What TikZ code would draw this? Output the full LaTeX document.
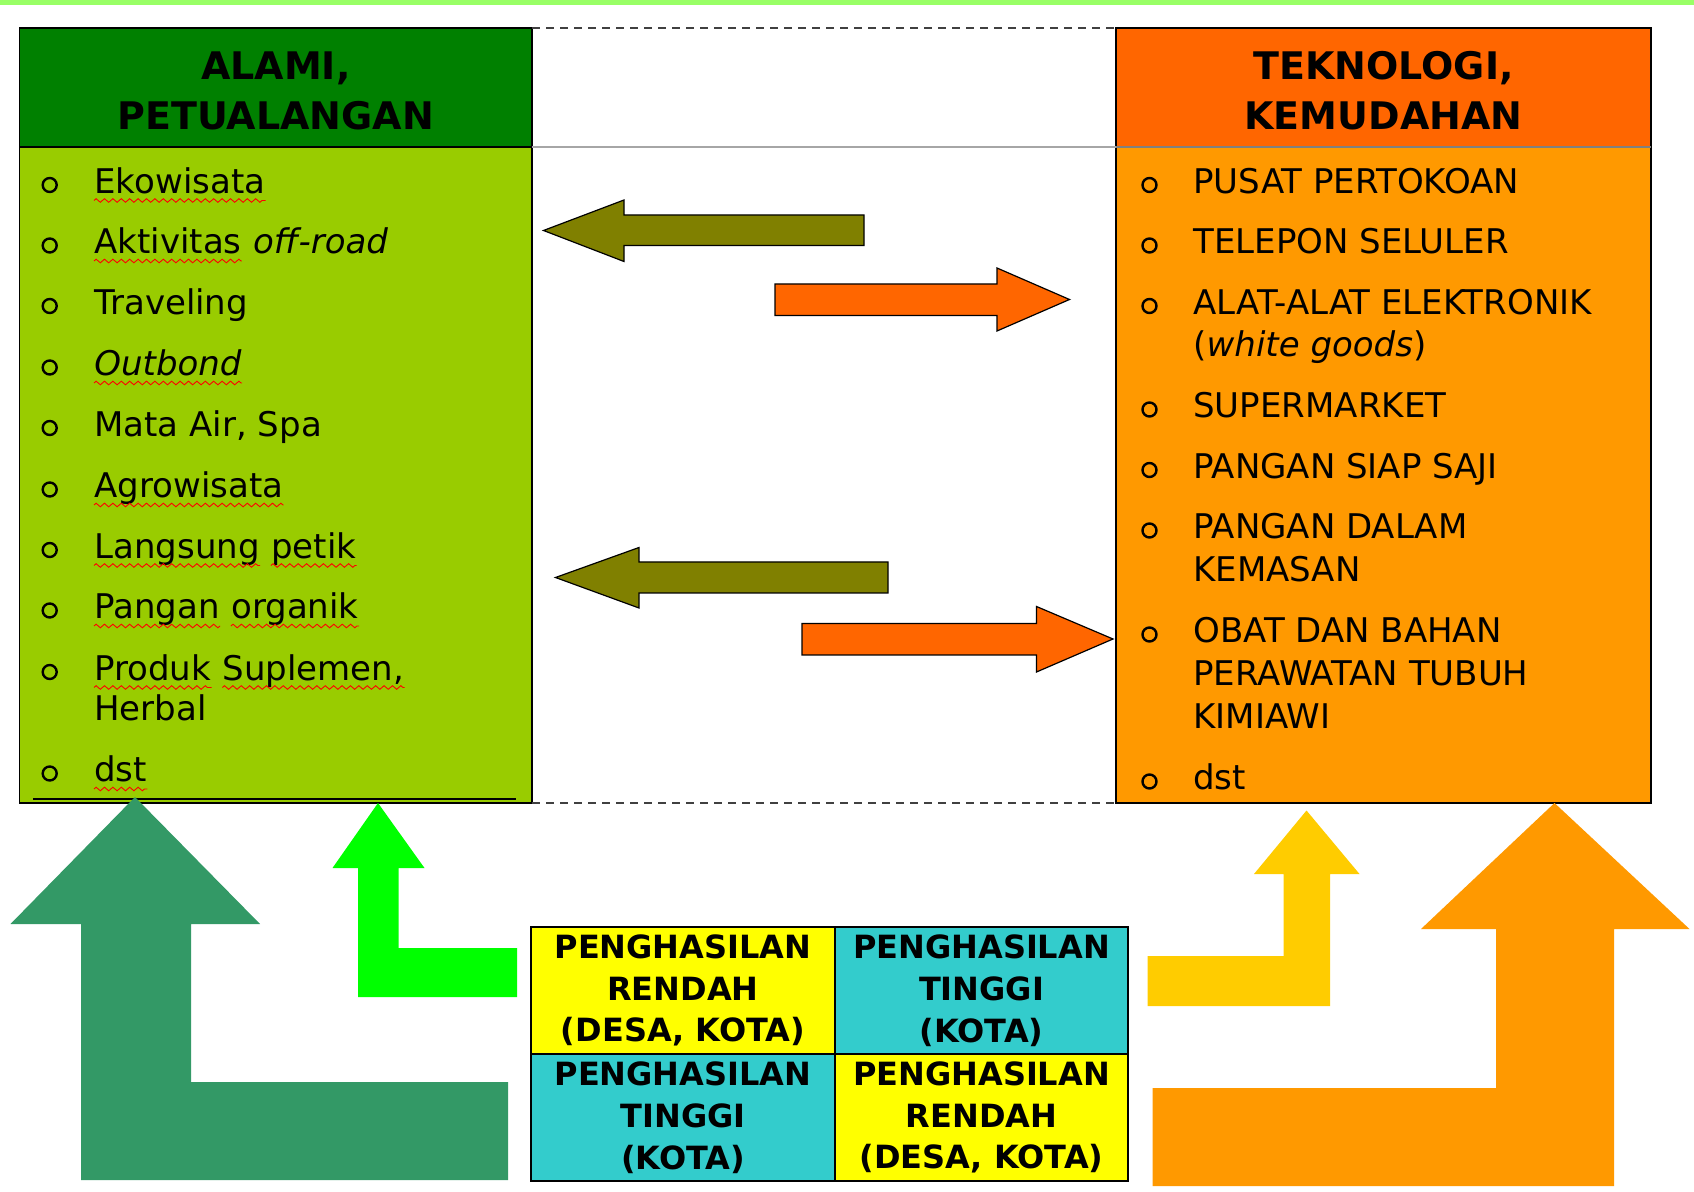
\documentclass[tikz,border=0pt]{standalone}
\usepackage{fontspec}
\setmainfont{DejaVu Sans}
\usetikzlibrary{decorations.pathmorphing}

\definecolor{garisatas}{HTML}{99FF66}
\definecolor{hijautua}{HTML}{008000}
\definecolor{hijaumuda}{HTML}{99CC00}
\definecolor{jingga}{HTML}{FF6600}
\definecolor{oranye}{HTML}{FF9900}
\definecolor{zaitun}{HTML}{808000}
\definecolor{hijaulaut}{HTML}{339966}
\definecolor{hijauterang}{HTML}{00FF00}
\definecolor{emas}{HTML}{FFCC00}
\definecolor{kuning}{HTML}{FFFF00}
\definecolor{toska}{HTML}{33CCCC}

\begin{document}
\begin{tikzpicture}[x=0.5pt, y=-0.5pt,
    judul/.style={inner sep=0pt, align=center, font=\bfseries\fontsize{19}{25}\selectfont},
    butir/.style={inner sep=0pt, anchor=base west, font=\fontsize{17}{21}\selectfont},
    sel/.style={draw, line width=0.8pt, inner sep=0pt, minimum height=63.5pt, align=center,
        font=\bfseries\fontsize{16}{20.9}\selectfont},
    bulat/.style={line width=1.2pt},
    panah/.style={draw=black, line width=0.6pt},
    gelombang/.style={red, line width=0.45pt, decorate,
        decoration={zigzag, segment length=4.2pt, amplitude=0.9pt}}]

    \useasboundingbox (0,0) rectangle (1694,1192);

    % Garis hijau di atas
    \fill[garisatas] (0,0) rectangle (1694,5);

    % Kotak kiri dan kanan
    \fill[hijautua] (19.5,28) rectangle (532,147);
    \fill[hijaumuda] (19.5,147) rectangle (532,803);
    \fill[jingga] (1116,28) rectangle (1651,147);
    \fill[oranye] (1116,147) rectangle (1651,803);
    \draw[line width=0.8pt] (19.5,28) rectangle (532,803);
    \draw[line width=0.8pt] (19.5,147) -- (532,147);
    \draw[line width=0.8pt] (1116,28) rectangle (1651,803);
    \draw[gray, line width=0.6pt] (1116,147) -- (1651,147);
    \draw[line width=1.2pt] (33,799) -- (516,799);

    % Kolom tengah
    \draw[gray!70, line width=0.6pt] (532,147) -- (1116,147);
    \draw[black!75, line width=0.7pt, dash pattern=on 4pt off 3pt] (532,28) -- (1116,28);
    \draw[black!75, line width=0.7pt, dash pattern=on 4pt off 3pt] (532,803) -- (1116,803);

    % Judul
    \node[judul] (alami) at (275.75,91) {ALAMI,\\PETUALANGAN};
    \node[judul] (teknologi) at (1383.5,91) {TEKNOLOGI,\\KEMUDAHAN};

    % Daftar kiri
    \draw[bulat] (49.7,185) circle (7) (49.7,245.5) circle (7) (49.7,306) circle (7)
        (49.7,367.5) circle (7) (49.7,428) circle (7) (49.7,489.5) circle (7)
        (49.7,550) circle (7) (49.7,610.5) circle (7) (49.7,672) circle (7)
        (49.7,773.5) circle (7);
    \node[butir] (k1) at (94,193.5) {Ekowisata};
    \node[butir] (k2) at (94,254) {Aktivitas};
    \node[butir] (k2b) at ([xshift=5.4pt]k2.base east) {\textit{off-road}};
    \node[butir] (k3) at (94,314.5) {Traveling};
    \node[butir] (k4) at (94,376) {\textit{Outbond}};
    \node[butir] (k5) at (94,436.5) {Mata Air, Spa};
    \node[butir] (k6) at (94,498) {Agrowisata};
    \node[butir] (k7) at (94,558.5) {Langsung};
    \node[butir] (k7b) at ([xshift=5.4pt]k7.base east) {petik};
    \node[butir] (k8) at (94,619) {Pangan};
    \node[butir] (k8b) at ([xshift=5.4pt]k8.base east) {organik};
    \node[butir] (k9) at (94,680.5) {Produk};
    \node[butir] (k9b) at ([xshift=5.4pt]k9.base east) {Suplemen,};
    \node[butir] (k9c) at (94,721) {Herbal};
    \node[butir] (k10) at (94,782) {dst};

    % Garis merah bergelombang
    \draw[gelombang] ([yshift=-3.5pt]k1.base west) -- ([yshift=-3.5pt]k1.base east);
    \draw[gelombang] ([yshift=-3.5pt]k2.base west) -- ([yshift=-3.5pt]k2.base east);
    \draw[gelombang] ([yshift=-3.5pt]k4.base west) -- ([yshift=-3.5pt]k4.base east);
    \draw[gelombang] ([yshift=-3.5pt]k6.base west) -- ([yshift=-3.5pt]k6.base east);
    \draw[gelombang] ([yshift=-3.5pt]k7.base west) -- ([yshift=-3.5pt]k7.base east);
    \draw[gelombang] ([yshift=-3.5pt]k7b.base west) -- ([yshift=-3.5pt]k7b.base east);
    \draw[gelombang] ([yshift=-3.5pt]k8.base west) -- ([yshift=-3.5pt]k8.base east);
    \draw[gelombang] ([yshift=-3.5pt]k8b.base west) -- ([yshift=-3.5pt]k8b.base east);
    \draw[gelombang] ([yshift=-3.5pt]k9.base west) -- ([yshift=-3.5pt]k9.base east);
    \draw[gelombang] ([yshift=-3.5pt]k9b.base west) -- ([yshift=-3.5pt]k9b.base east);
    \draw[gelombang] ([yshift=-3.5pt]k10.base west) -- ([yshift=-3.5pt]k10.base east);

    % Daftar kanan
    \draw[bulat] (1149.5,185) circle (7) (1149.5,245.5) circle (7) (1149.5,306) circle (7)
        (1149.5,409.5) circle (7) (1149.5,470) circle (7) (1149.5,530.5) circle (7)
        (1149.5,634.5) circle (7) (1149.5,781.5) circle (7);
    \node[butir] (n1) at (1193,193.5) {PUSAT PERTOKOAN};
    \node[butir] (n2) at (1193,254) {TELEPON SELULER};
    \node[butir] (n3) at (1193,314.5) {ALAT-ALAT ELEKTRONIK};
    \node[butir] (n3b) at (1193,356.5) {(\textit{white goods})};
    \node[butir] (n4) at (1193,418) {SUPERMARKET};
    \node[butir] (n5) at (1193,478.5) {PANGAN SIAP SAJI};
    \node[butir] (n6) at (1193,539) {PANGAN DALAM};
    \node[butir] (n6b) at (1193,581.5) {KEMASAN};
    \node[butir] (n7) at (1193,643) {OBAT DAN BAHAN};
    \node[butir] (n7b) at (1193,685.5) {PERAWATAN TUBUH};
    \node[butir] (n7c) at (1193,728) {KIMIAWI};
    \node[butir] (n8) at (1193,790) {dst};

    % Panah di tengah
    \fill[panah, fill=zaitun] (543.5,230.5) -- (624,200) -- (624,215) -- (864,215) -- (864,245.5)
        -- (624,245.5) -- (624,261.5) -- cycle;
    \fill[panah, fill=jingga] (775,284) -- (997,284) -- (997,268) -- (1069.5,299.5) -- (997,331)
        -- (997,315.5) -- (775,315.5) -- cycle;
    \fill[panah, fill=zaitun] (555.5,577.5) -- (639,547.5) -- (639,562) -- (888,562) -- (888,593)
        -- (639,593) -- (639,608) -- cycle;
    \fill[panah, fill=jingga] (802,623.5) -- (1036.5,623.5) -- (1036.5,606.5) -- (1113,639)
        -- (1036.5,672) -- (1036.5,655) -- (802,655) -- cycle;

    % Panah bawah berbentuk L
    \fill[hijaulaut] (135,797) -- (260,924) -- (191,924) -- (191,1082) -- (508,1082) -- (508,1180)
        -- (81,1180) -- (81,924) -- (10.5,924) -- cycle;
    \fill[hijauterang] (378,803) -- (424.5,868) -- (398.5,868) -- (398.5,948) -- (517,948)
        -- (517,997) -- (358,997) -- (358,868) -- (332.5,868) -- cycle;
    \fill[emas] (1306.5,810.5) -- (1359.5,874) -- (1330,874) -- (1330,1006) -- (1147.5,1006)
        -- (1147.5,956) -- (1283.5,956) -- (1283.5,874) -- (1254,874) -- cycle;
    \fill[oranye] (1554.5,803) -- (1689.5,929) -- (1614,929) -- (1614,1186) -- (1152.5,1186)
        -- (1152.5,1088) -- (1496,1088) -- (1496,929) -- (1421,929) -- cycle;

    % Tabel penghasilan
    \node[sel, fill=kuning, minimum width=152pt] (c1) at (683,990.5) {PENGHASILAN\\RENDAH\\(DESA, KOTA)};
    \node[sel, fill=toska, minimum width=146.5pt] (c2) at (981.5,990.5) {PENGHASILAN\\TINGGI\\(KOTA)};
    \node[sel, fill=toska, minimum width=152pt] (c3) at (683,1117.5) {PENGHASILAN\\TINGGI\\(KOTA)};
    \node[sel, fill=kuning, minimum width=146.5pt] (c4) at (981.5,1117.5) {PENGHASILAN\\RENDAH\\(DESA, KOTA)};

\end{tikzpicture}
\end{document}
